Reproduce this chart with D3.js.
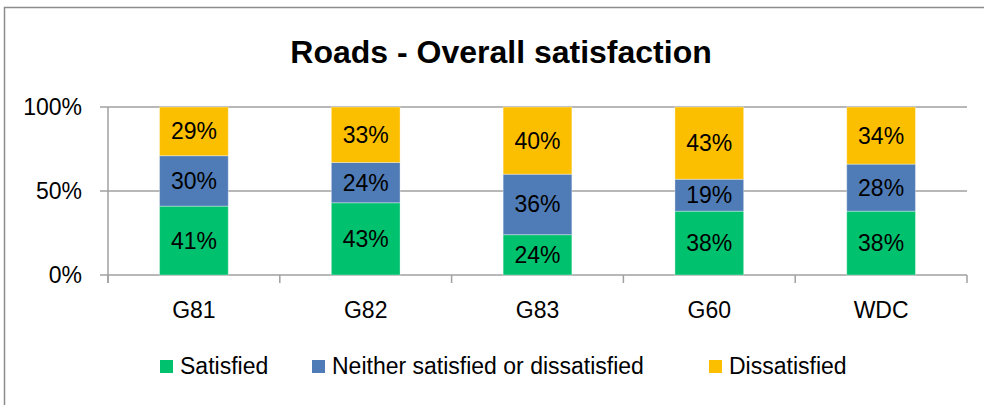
<!DOCTYPE html>
<html>
<head>
  <script src="https://d3js.org/d3.v7.min.js"></script>
  <title>Roads - Overall satisfaction</title>
  <style>
    body { margin: 0; background: #fff; }
    text { font-family: "Liberation Sans", Arial, sans-serif; }
  </style>
</head>
<body>
  <div id="chart"></div>
  <script>
    // data
    const categories = ["G81", "G82", "G83", "G60", "WDC"];
    const seriesNames = ["Satisfied", "Neither satisfied or dissatisfied", "Dissatisfied"];
    const satisfied = [41, 43, 24, 38, 38];
    const neither = [30, 24, 36, 19, 28];
    const dissatisfied = [29, 33, 40, 43, 34];
    const yTicks = [0, 50, 100];
    const colors = ["#00c16e", "#4f7cb6", "#fbbf00"];

    const W = 984, H = 405;
    const margin = { top: 107, right: 17, bottom: 130, left: 108 };
    const width = W - margin.left - margin.right,
      height = H - margin.top - margin.bottom;

    const svg = d3.select("#chart").append("svg")
      .attr("width", W)
      .attr("height", H);

    // chart frame (only top and left visible)
    svg.append("path")
      .attr("d", `M4.5,${H} V7.5 H${W}`)
      .attr("fill", "none")
      .attr("stroke", "#8c8c8c")
      .attr("stroke-width", 1.5);

    // title
    svg.append("text")
      .attr("x", 501)
      .attr("y", 63)
      .attr("text-anchor", "middle")
      .style("font-size", "32px")
      .style("font-weight", "bold")
      .text("Roads - Overall satisfaction");

    const g = svg.append("g")
      .attr("transform", `translate(${margin.left},${margin.top})`);

    const x = d3.scaleBand()
      .domain(categories)
      .range([0, width])
      .paddingInner(0.6)
      .paddingOuter(0.3);

    const y = d3.scaleLinear()
      .domain([0, 100])
      .range([height, 0]);

    // gridlines
    g.append("g")
      .selectAll("line")
      .data(yTicks)
      .join("line")
      .attr("x1", -8)
      .attr("x2", width)
      .attr("y1", d => y(d))
      .attr("y2", d => y(d))
      .attr("stroke", "#a0a0a0")
      .attr("stroke-width", 1.5);

    // y axis labels
    g.append("g")
      .selectAll("text")
      .data(yTicks)
      .join("text")
      .attr("x", -26)
      .attr("y", d => y(d) + 8)
      .attr("text-anchor", "end")
      .style("font-size", "23px")
      .text(d => d + "%");

    // y axis line
    g.append("line")
      .attr("x1", 0).attr("x2", 0)
      .attr("y1", 0).attr("y2", height + 8)
      .attr("stroke", "#a0a0a0")
      .attr("stroke-width", 1.5);

    // x ticks between categories
    const step = x.step();
    g.append("g")
      .selectAll("line")
      .data(d3.range(categories.length + 1))
      .join("line")
      .attr("x1", i => i * step)
      .attr("x2", i => i * step)
      .attr("y1", height)
      .attr("y2", height + 8)
      .attr("stroke", "#a0a0a0")
      .attr("stroke-width", 1.5);

    // x labels
    g.append("g")
      .selectAll("text")
      .data(categories)
      .join("text")
      .attr("x", d => x(d) + x.bandwidth() / 2)
      .attr("y", height + 43)
      .attr("text-anchor", "middle")
      .style("font-size", "23px")
      .text(d => d);

    // stacked data
    const rows = categories.map((c, i) => ({
      cat: c,
      Satisfied: satisfied[i],
      "Neither satisfied or dissatisfied": neither[i],
      Dissatisfied: dissatisfied[i]
    }));
    const stacked = d3.stack().keys(seriesNames)(rows);

    const layer = g.selectAll(".layer")
      .data(stacked)
      .join("g")
      .attr("class", "layer")
      .attr("fill", (d, i) => colors[i]);

    layer.selectAll("rect")
      .data(d => d)
      .join("rect")
      .attr("x", d => x(d.data.cat))
      .attr("width", x.bandwidth())
      .attr("y", d => y(d[1]))
      .attr("height", d => y(d[0]) - y(d[1]))
      .attr("stroke", "#ffffff")
      .attr("stroke-opacity", 0.35)
      .attr("stroke-width", 1);

    layer.selectAll("text")
      .data(d => d.map(v => ({ v, key: d.key })))
      .join("text")
      .attr("x", d => x(d.v.data.cat) + x.bandwidth() / 2)
      .attr("y", d => y((d.v[0] + d.v[1]) / 2) + 8)
      .attr("text-anchor", "middle")
      .attr("fill", "#000")
      .style("font-size", "23px")
      .text(d => d.v.data[d.key] + "%");

    // legend
    const legendX = [160, 312, 709];
    const legend = svg.append("g")
      .selectAll("g")
      .data(seriesNames)
      .join("g")
      .attr("transform", (d, i) => `translate(${legendX[i]},360)`);
    legend.append("rect")
      .attr("width", 13)
      .attr("height", 13)
      .attr("fill", (d, i) => colors[i]);
    legend.append("text")
      .attr("x", 20)
      .attr("y", 14)
      .style("font-size", "23px")
      .text(d => d);
  </script>
</body>
</html>
